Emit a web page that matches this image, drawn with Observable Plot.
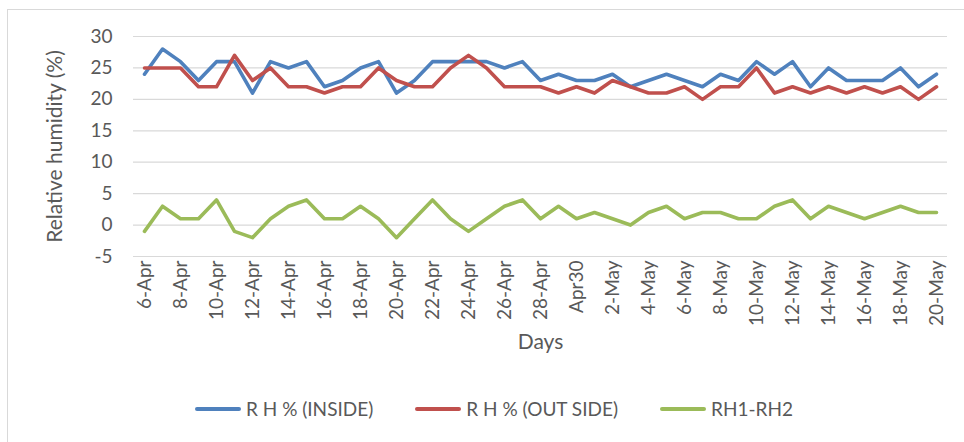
<!DOCTYPE html>
<html>
<head>
<meta charset="utf-8">
<script src="https://cdn.jsdelivr.net/npm/d3@7"></script>
<script src="https://cdn.jsdelivr.net/npm/@observablehq/plot@0.6"></script>
<style>
  body { margin: 0; background: #fff; font-family: Lato, sans-serif; }
  #box { position: absolute; left: 7px; top: 9px; width: 1000px; height: 500px;
         border-top: 1px solid #d9d9d9; border-left: 1px solid #d9d9d9; }
  #chart { position: absolute; left: 0; top: 0; }
  #legend { position: absolute; left: 195px; top: 397px; display: flex; gap: 42px;
            font-size: 19px; color: #595959; }
  #legend span.item { display: flex; align-items: center; gap: 5px; }
  #legend span.sw { width: 46px; height: 4px; border-radius: 2px; display: inline-block; }
</style>
</head>
<body>
<div id="box"></div>
<div id="chart"></div>
<div id="legend"></div>
<script>
// jours (45 jours, du 6 avril au 20 mai)
const days = [
  "6-Apr","7-Apr","8-Apr","9-Apr","10-Apr","11-Apr","12-Apr","13-Apr","14-Apr","15-Apr",
  "16-Apr","17-Apr","18-Apr","19-Apr","20-Apr","21-Apr","22-Apr","23-Apr","24-Apr","25-Apr",
  "26-Apr","27-Apr","28-Apr","29-Apr","Apr30","1-May","2-May","3-May","4-May","5-May",
  "6-May","7-May","8-May","9-May","10-May","11-May","12-May","13-May","14-May","15-May",
  "16-May","17-May","18-May","19-May","20-May"
];
// etiquettes visibles (un jour sur deux)
const tickDays = days.filter((d, i) => i % 2 === 0);

const rhInside = [24,28,26,23,26,26,21,26,25,26,22,23,25,26,21,23,26,26,26,26,25,26,23,24,23,23,24,22,23,24,23,22,24,23,26,24,26,22,25,23,23,23,25,22,24];
const rhOutside = [25,25,25,22,22,27,23,25,22,22,21,22,22,25,23,22,22,25,27,25,22,22,22,21,22,21,23,22,21,21,22,20,22,22,25,21,22,21,22,21,22,21,22,20,22];
const rhDiff = [-1,3,1,1,4,-1,-2,1,3,4,1,1,3,1,-2,1,4,1,-1,1,3,4,1,3,1,2,1,0,2,3,1,2,2,1,1,3,4,1,3,2,1,2,3,2,2];

const seriesNames = ["R H % (INSIDE)", "R H % (OUT SIDE)", "RH1-RH2"];
const seriesColors = ["#4f81bd", "#c0504d", "#9bbb59"];
const yTicks = [-5, 0, 5, 10, 15, 20, 25, 30];

// on arme une table longue pour Plot
const rows = [];
[rhInside, rhOutside, rhDiff].forEach((vals, s) => {
  vals.forEach((v, i) => rows.push({ day: days[i], value: v, serie: seriesNames[s] }));
});

const chart = Plot.plot({
  width: 964,
  height: 380,
  marginLeft: 133,
  marginRight: 17,
  marginTop: 36,
  marginBottom: 124,
  style: { fontFamily: "Lato, sans-serif", fontSize: "19px", color: "#595959", background: "transparent" },
  x: { type: "point", domain: days, padding: 0.5 },
  y: { domain: [-5, 30] },
  color: { domain: seriesNames, range: seriesColors },
  marks: [
    Plot.gridY(yTicks, { stroke: "#d9d9d9", strokeOpacity: 1, strokeWidth: 1.2 }),
    Plot.axisY(yTicks, { tickSize: 0, tickPadding: 21, tickFormat: d => String(d),
      label: "Relative humidity (%)", labelAnchor: "center", labelArrow: "none",
      labelOffset: 86, fontSize: 19 }),
    Plot.axisX(tickDays, { tickSize: 0, tickPadding: 4, tickRotate: -90, fontSize: 19,
      label: "Days", labelAnchor: "center", labelArrow: "none", labelOffset: 92 }),
    Plot.lineY(rows, { x: "day", y: "value", z: "serie", stroke: "serie",
      strokeWidth: 3.6, strokeLinejoin: "round", strokeLinecap: "round" })
  ]
});
chart.querySelectorAll("[aria-label='y-axis label'] text, [aria-label='x-axis label'] text")
  .forEach(t => t.setAttribute("font-size", 21));
d3.select("#chart").append(() => chart);

// legende en HTML sous le graphique
const legend = d3.select("#legend");
seriesNames.forEach((n, i) => {
  const item = legend.append("span").attr("class", "item");
  item.append("span").attr("class", "sw").style("background", seriesColors[i]);
  item.append("span").text(n);
});
</script>
</body>
</html>
